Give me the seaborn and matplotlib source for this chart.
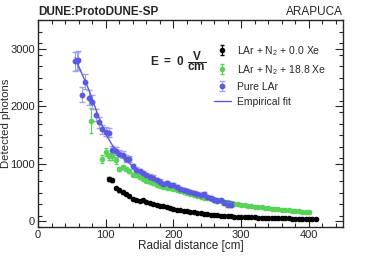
import matplotlib
matplotlib.use("Agg")
import matplotlib.pyplot as plt
import seaborn as sns
import pandas as pd

# Pure LAr
x_lar = [55, 57, 59, 65, 70, 75, 80, 85, 90, 95, 100, 105, 110, 115, 120, 125, 130, 135,
         140, 145, 150, 155, 160, 165, 170, 175, 180, 185, 190, 195, 200, 205, 210, 215,
         220, 225, 230, 235, 240, 245, 250, 255, 260, 265, 270, 275, 280, 285]
y_lar = [2780, 2790, 2800, 2200, 2430, 2150, 2080, 1850, 1720, 1600, 1560, 1540, 1240, 1230,
         1180, 1160, 1090, 1085, 960, 900, 870, 840, 800, 780, 760, 720, 690, 650, 665, 630,
         640, 600, 570, 545, 525, 505, 490, 470, 455, 475, 430, 410, 380, 360, 365, 320, 290, 280]
e_lar = [160, 160, 160, 130, 130, 130, 120, 110, 100, 80, 80, 80, 70, 70, 60, 60, 60, 60,
         45, 45, 45, 45, 40, 40, 40, 40, 40, 40, 40, 40, 35, 35, 35, 35, 35, 35, 35, 35,
         35, 35, 30, 30, 30, 30, 30, 30, 30, 30]

# LAr + N2 + 18.8 Xe
x_xe = [79, 94, 100, 105, 110, 115, 120, 125, 130, 135, 140, 145, 150, 155, 160, 165, 170,
        175, 180, 185, 190, 195, 200, 205, 210, 215, 220, 225, 230, 235, 240, 245, 250, 255,
        260, 265, 270, 275, 280, 285, 290, 295, 300, 305, 310, 315, 320, 325, 330, 335, 340,
        345, 350, 355, 360, 365, 370, 375, 380, 385, 390, 395, 400]
y_xe = [1750, 1080, 1210, 1130, 1130, 1060, 910, 945, 910, 880, 810, 805, 770, 740, 700, 690,
        660, 640, 610, 600, 590, 575, 560, 540, 525, 505, 490, 475, 460, 445, 430, 415, 405,
        390, 378, 365, 352, 340, 330, 320, 310, 300, 292, 283, 275, 267, 259, 251, 244, 237,
        230, 223, 216, 210, 204, 198, 192, 187, 182, 176, 171, 166, 160]
e_xe = [220, 70, 70, 60, 60, 60, 30, 30, 30, 30, 25, 25, 25, 20, 20, 20, 20, 20, 15, 15, 15,
        15, 15, 15, 15, 15, 15, 15, 15, 15, 15, 15, 15, 15, 15, 15, 15, 15, 15, 15, 15, 15,
        15, 15, 15, 15, 15, 15, 15, 15, 15, 15, 15, 15, 15, 15, 15, 15, 15, 15, 15, 15, 15]

# LAr + N2 + 0.0 Xe
x_n2 = list(range(105, 415, 5))
y_n2 = [740, 715, 585, 540, 505, 478, 450, 395, 380, 360, 375, 345, 325, 305, 290, 275, 262,
        250, 236, 215, 205, 195, 186, 178, 170, 160, 152, 145, 138, 125, 120, 114, 108, 103,
        98, 94, 90, 86, 83, 80, 77, 74, 72, 70, 68, 66, 64, 62, 60, 58, 57, 55, 54, 52, 51,
        50, 49, 48, 47, 46, 45, 44]
e_n2 = [30, 30, 20, 20, 20, 20, 15, 15, 15, 15, 15, 12, 12, 12, 12, 10, 10, 10, 10, 10, 10,
        10, 10, 10, 8, 8, 8, 8, 8, 8, 8, 8, 8, 8, 8, 8, 8, 8, 8, 8, 8, 8, 8, 8, 8, 8, 8, 8,
        8, 8, 8, 8, 8, 8, 8, 8, 8, 8, 8, 8, 8, 8]

# Empirical fit
x_fit = [55, 60, 65, 70, 75, 80, 90, 100, 110, 120, 130, 140, 150, 165, 180, 200, 220, 240,
         260, 280, 290]
y_fit = [2850, 2700, 2560, 2430, 2290, 2130, 1800, 1520, 1320, 1170, 1060, 960, 880, 780,
         700, 620, 540, 470, 410, 350, 330]

sns.set_theme(style="ticks")
plt.rcParams["font.family"] = ["Liberation Sans", "DejaVu Sans"]
plt.rcParams["mathtext.fontset"] = "custom"
plt.rcParams["mathtext.rm"] = "Liberation Sans"
plt.rcParams["mathtext.bf"] = "Liberation Sans:bold"

blue = "#5a5ae0"
blue_err = "#a0a0ee"
green = "#55d455"

fig = plt.figure(figsize=(3.81, 2.60), dpi=100)
ax = fig.add_axes([0.0997, 0.126, 0.80, 0.797])

h_n2 = ax.errorbar(x_n2, y_n2, yerr=e_n2, fmt="o", ms=3.0, color="black", ecolor="black",
                   elinewidth=0.8, capsize=1.5, label="LAr + N$_2$ + 0.0 Xe")
h_xe = ax.errorbar(x_xe, y_xe, yerr=e_xe, fmt="o", ms=3.0, color=green, ecolor=green,
                   elinewidth=0.8, capsize=1.5, label="LAr + N$_2$ + 18.8 Xe")
h_lar = ax.errorbar(x_lar, y_lar, yerr=e_lar, fmt="o", ms=3.2, color=blue, ecolor=blue_err,
                    elinewidth=0.8, capsize=2, label="Pure LAr")
fit = pd.DataFrame({"x": x_fit, "y": y_fit})
sns.lineplot(data=fit, x="x", y="y", ax=ax, color=blue, lw=1.0, label="Empirical fit",
             zorder=3)
h_fit = ax.get_lines()[-1]

ax.set_xlim(0, 450)
ax.set_ylim(-100, 3500)
ax.set_xticks([0, 100, 200, 300, 400])
ax.set_yticks([0, 1000, 2000, 3000])
ax.set_xticks(range(0, 451, 20), minor=True)
ax.set_yticks(range(-100, 3501, 200), minor=True)
ax.tick_params(which="both", direction="in", top=True, right=True, labelsize=8, pad=2,
               width=0.8)
ax.tick_params(which="major", length=6)
ax.tick_params(which="minor", length=3)
for s in ax.spines.values():
    s.set_linewidth(1.0)

ax.set_xlabel("Radial distance [cm]", fontsize=8.5, labelpad=0)
ax.set_ylabel("Detected photons", fontsize=8.2)
ax.yaxis.set_label_coords(-0.088, 0.5)

ax.text(0.367, 0.80, r"$\mathbf{E\ =\ 0}\ \dfrac{\mathbf{V}}{\mathbf{cm}}$",
        transform=ax.transAxes, fontsize=8.5, va="center", ha="left")

fig.text(0.0997, 0.955, "DUNE:ProtoDUNE-SP", fontsize=8.5, fontweight="bold",
         ha="left", va="center")
fig.text(0.8997, 0.955, "ARAPUCA", fontsize=8.5, ha="right", va="center")

ax.legend([h_n2, h_xe, h_lar, h_fit],
          ["LAr + N$_2$ + 0.0 Xe", "LAr + N$_2$ + 18.8 Xe", "Pure LAr", "Empirical fit"],
          loc="upper left", bbox_to_anchor=(0.56, 0.91), frameon=False, fontsize=7.5,
          handlelength=1.6, handletextpad=0.6, labelspacing=0.5, borderpad=0)

fig.savefig("out.png", dpi=100)
